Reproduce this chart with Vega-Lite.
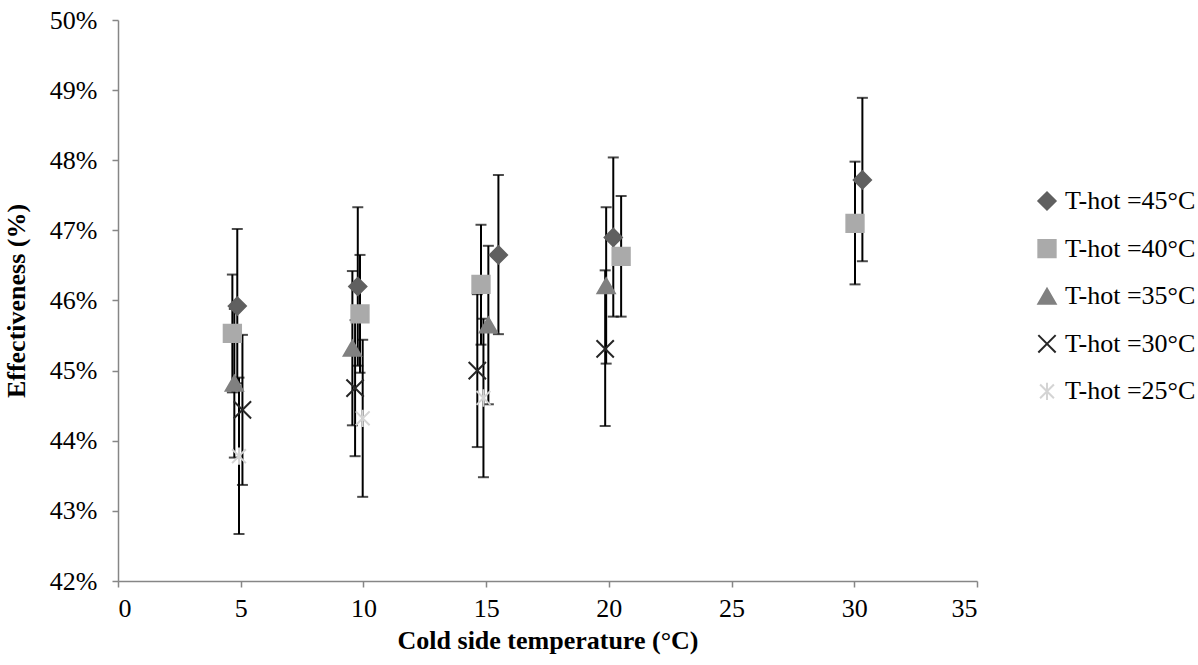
{
  "$schema": "https://vega.github.io/schema/vega-lite/v6.json",
  "width": 859,
  "height": 561,
  "autosize": {"type": "none"},
  "padding": {"left": 118, "top": 20, "right": 221, "bottom": 84},
  "background": "white",
  "config": {
    "font": "Liberation Serif",
    "view": {"stroke": null},
    "axis": {
      "grid": false,
      "domainColor": "#868686",
      "domainWidth": 1.5,
      "tickColor": "#868686",
      "tickWidth": 1.5,
      "tickSize": 6,
      "labelFont": "Liberation Serif",
      "labelFontSize": 26,
      "labelColor": "black",
      "titleFont": "Liberation Serif",
      "titleFontSize": 26,
      "titleFontWeight": "bold",
      "titleColor": "black"
    },
    "legend": {
      "labelFont": "Liberation Serif",
      "labelFontSize": 26,
      "labelColor": "black"
    }
  },
  "data": {
    "values": [
      {"series": "T-hot =45°C", "x": 4.86, "y": 0.4592, "lo": 0.4482, "hi": 0.4702},
      {"series": "T-hot =45°C", "x": 9.77, "y": 0.4620, "lo": 0.4507, "hi": 0.4733},
      {"series": "T-hot =45°C", "x": 15.50, "y": 0.4665, "lo": 0.4552, "hi": 0.4779},
      {"series": "T-hot =45°C", "x": 20.18, "y": 0.4690, "lo": 0.4577, "hi": 0.4804},
      {"series": "T-hot =45°C", "x": 30.33, "y": 0.4772, "lo": 0.4656, "hi": 0.4889},
      {"series": "T-hot =40°C", "x": 4.66, "y": 0.4553, "lo": 0.4469, "hi": 0.4637},
      {"series": "T-hot =40°C", "x": 9.86, "y": 0.4581, "lo": 0.4497, "hi": 0.4665},
      {"series": "T-hot =40°C", "x": 14.79, "y": 0.4623, "lo": 0.4537, "hi": 0.4708},
      {"series": "T-hot =40°C", "x": 20.50, "y": 0.4663, "lo": 0.4577, "hi": 0.4749},
      {"series": "T-hot =40°C", "x": 30.03, "y": 0.4710, "lo": 0.4623, "hi": 0.4798},
      {"series": "T-hot =35°C", "x": 4.74, "y": 0.4482, "lo": 0.4376, "hi": 0.4588},
      {"series": "T-hot =35°C", "x": 9.55, "y": 0.4532, "lo": 0.4422, "hi": 0.4642},
      {"series": "T-hot =35°C", "x": 15.09, "y": 0.4565, "lo": 0.4452, "hi": 0.4678},
      {"series": "T-hot =35°C", "x": 19.89, "y": 0.4621, "lo": 0.4510, "hi": 0.4733},
      {"series": "T-hot =30°C", "x": 5.07, "y": 0.4444, "lo": 0.4337, "hi": 0.4551},
      {"series": "T-hot =30°C", "x": 9.66, "y": 0.4475, "lo": 0.4378, "hi": 0.4572},
      {"series": "T-hot =30°C", "x": 14.64, "y": 0.4500, "lo": 0.4391, "hi": 0.4609},
      {"series": "T-hot =30°C", "x": 19.85, "y": 0.4531, "lo": 0.4421, "hi": 0.4643},
      {"series": "T-hot =25°C", "x": 4.93, "y": 0.4378, "lo": 0.4267, "hi": 0.4490},
      {"series": "T-hot =25°C", "x": 9.97, "y": 0.4432, "lo": 0.4320, "hi": 0.4544},
      {"series": "T-hot =25°C", "x": 14.89, "y": 0.4461, "lo": 0.4348, "hi": 0.4574}
    ]
  },
  "layer": [
    {
      "mark": {"type": "errorbar", "ticks": true, "thickness": 2, "size": 11, "color": "black"},
      "encoding": {
        "x": {"field": "x", "type": "quantitative", "scale": {"domain": [0, 35]}, "title": "Cold side temperature (°C)"},
        "y": {"field": "lo", "type": "quantitative", "scale": {"domain": [0.42, 0.5]}, "title": "Effectiveness (%)"},
        "y2": {"field": "hi"}
      }
    },
    {
      "mark": {"type": "point", "filled": true, "size": 300, "strokeWidth": 2, "opacity": 1},
      "encoding": {
        "x": {
          "field": "x", "type": "quantitative",
          "scale": {"domain": [0, 35]},
          "axis": {"values": [0, 5, 10, 15, 20, 25, 30, 35], "labelPadding": 8, "titlePadding": 6},
          "title": "Cold side temperature (°C)"
        },
        "y": {
          "field": "y", "type": "quantitative",
          "scale": {"domain": [0.42, 0.5]},
          "axis": {"values": [0.42, 0.43, 0.44, 0.45, 0.46, 0.47, 0.48, 0.49, 0.5], "format": ".0%", "labelPadding": 15, "titlePadding": 20},
          "title": "Effectiveness (%)"
        },
        "color": {
          "field": "series", "type": "nominal",
          "scale": {
            "domain": ["T-hot =45°C", "T-hot =40°C", "T-hot =35°C", "T-hot =30°C", "T-hot =25°C"],
            "range": ["#606060", "#aaaaaa", "#808080", "#262626", "#d4d4d4"]
          },
          "legend": {
            "title": null,
            "orient": "none",
            "legendX": 916,
            "legendY": 168,
            "padding": 0,
            "symbolSize": 300,
            "symbolStrokeWidth": 2,
            "labelOffset": 5,
            "rowPadding": 21.6
          }
        },
        "stroke": {
          "field": "series", "type": "nominal",
          "scale": {
            "domain": ["T-hot =45°C", "T-hot =40°C", "T-hot =35°C", "T-hot =30°C", "T-hot =25°C"],
            "range": ["#606060", "#aaaaaa", "#808080", "#262626", "#d4d4d4"]
          },
          "legend": {
            "title": null,
            "orient": "none",
            "legendX": 916,
            "legendY": 168,
            "padding": 0,
            "symbolSize": 300,
            "symbolStrokeWidth": 2,
            "labelOffset": 5,
            "rowPadding": 21.6
          }
        },
        "shape": {
          "field": "series", "type": "nominal",
          "scale": {
            "domain": ["T-hot =45°C", "T-hot =40°C", "T-hot =35°C", "T-hot =30°C", "T-hot =25°C"],
            "range": ["diamond", "square", "triangle-up", "M-1,-1L1,1M-1,1L1,-1", "M-0.8,-0.8L0.8,0.8M-0.8,0.8L0.8,-0.8M0,-1L0,1"]
          },
          "legend": {
            "title": null,
            "orient": "none",
            "legendX": 916,
            "legendY": 168,
            "padding": 0,
            "symbolSize": 300,
            "symbolStrokeWidth": 2,
            "labelOffset": 5,
            "rowPadding": 21.6
          }
        }
      }
    }
  ]
}
